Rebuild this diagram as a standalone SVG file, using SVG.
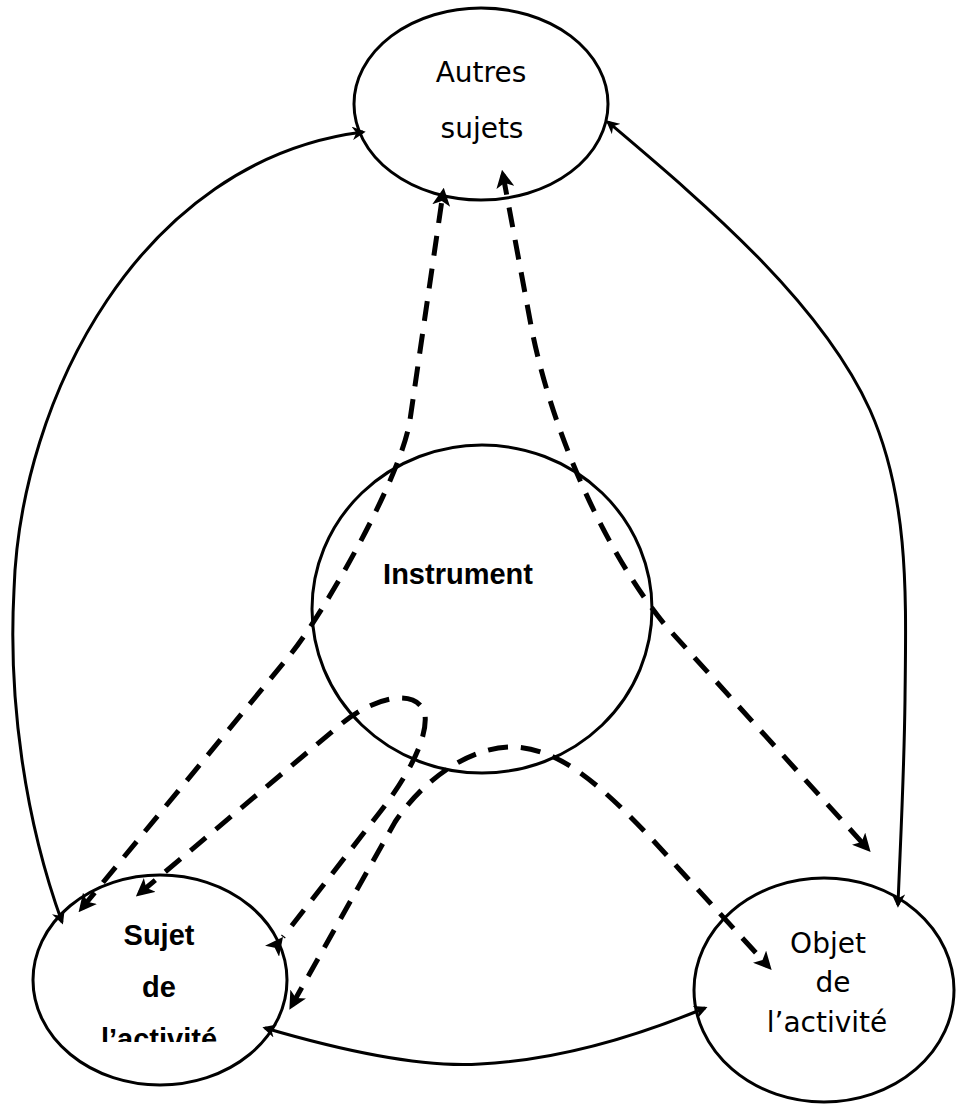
<svg xmlns="http://www.w3.org/2000/svg" width="956" height="1104" viewBox="0 0 956 1104">
  <defs>
    <style>
      .node { fill: #ffffff; stroke: #000000; stroke-width: 3; }
      .solid { fill: none; stroke: #000000; stroke-width: 3; }
      .dash { fill: none; stroke: #000000; stroke-width: 5; stroke-dasharray: 20 13; }
      .lbl { font-family: "DejaVu Sans", "Noto Sans", sans-serif; font-size: 28px; fill: #000000; text-anchor: middle; }
      .lblb { font-family: "Liberation Sans", Arial, sans-serif; font-size: 29px; font-weight: bold; fill: #000000; text-anchor: middle; }
    </style>
    <marker id="as" viewBox="0 0 10 10" refX="8" refY="5" markerWidth="4.5" markerHeight="4.5" orient="auto-start-reverse" markerUnits="strokeWidth">
      <path d="M0,0 L10,5 L0,10 L3,5 z" fill="#000"/>
    </marker>
    <marker id="ad" viewBox="0 0 10 10" refX="7" refY="5" markerWidth="3.6" markerHeight="3.6" orient="auto-start-reverse" markerUnits="strokeWidth">
      <path d="M0,0 L10,5 L0,10 L2.5,5 z" fill="#000"/>
    </marker>
    <marker id="adrev" viewBox="0 0 10 10" refX="0" refY="5" markerWidth="3.6" markerHeight="3.6" orient="auto" markerUnits="strokeWidth">
      <path d="M10,0 L0,5 L10,10 L7.5,5 z" fill="#000"/>
    </marker>
    <clipPath id="clipSujet">
      <rect x="0" y="0" width="956" height="1042"/>
    </clipPath>
  </defs>
  <rect x="0" y="0" width="956" height="1104" fill="#ffffff"/>

  <g id="autres">
    <ellipse class="node" cx="481" cy="104" rx="127" ry="96"/>
    <text class="lbl" x="481" y="82">Autres</text>
    <text class="lbl" x="482" y="138">sujets</text>
  </g>

  <g id="instrument">
    <ellipse class="node" cx="482" cy="609" rx="170" ry="164"/>
    <text class="lblb" x="458" y="584">Instrument</text>
  </g>

  <g id="sujet">
    <ellipse class="node" cx="160" cy="980" rx="127" ry="105"/>
    <text class="lblb" x="159" y="945">Sujet</text>
    <text class="lblb" x="159" y="997">de</text>
    <text class="lblb" x="159" y="1049" clip-path="url(#clipSujet)">l’activité</text>
  </g>

  <g id="objet">
    <ellipse class="node" cx="824" cy="990" rx="130" ry="112"/>
    <text class="lbl" x="828" y="953">Objet</text>
    <text class="lbl" x="833" y="992">de</text>
    <text class="lbl" x="827" y="1032">l’activité</text>
  </g>

  <g id="connectors">
    <path class="solid" marker-start="url(#as)" marker-end="url(#as)" d="M62,922 C25,820 8,700 14,590 C20,400 140,160 363,132"/>
    <path class="solid" marker-start="url(#as)" marker-end="url(#as)" d="M608,122 C700,200 820,300 870,410 C910,500 906,600 905,700 C904,780 900,850 898,905"/>
    <path class="solid" marker-start="url(#as)" marker-end="url(#as)" d="M265,1028 C340,1050 420,1068 480,1064 C560,1060 640,1035 705,1008"/>

    <path class="dash" marker-start="url(#ad)" marker-end="url(#ad)" d="M82,908 L290,655 C322,616 401,479 410,420 L443,193"/>
    <path class="dash" marker-start="url(#ad)" marker-end="url(#ad)" d="M503,175 L530,320 C548,420 600,545 665,625 L867,848"/>
    <path class="dash" marker-start="url(#ad)" marker-end="url(#adrev)" d="M140,893 L340,725 C380,692 420,690 425,715 C428,740 405,780 380,812 L283,937"/>
    <path class="dash" marker-start="url(#ad)" marker-end="url(#ad)" d="M292,1005 L395,822 C430,770 480,745 515,747 C560,750 600,780 680,870 L768,966"/>
  </g>
</svg>
